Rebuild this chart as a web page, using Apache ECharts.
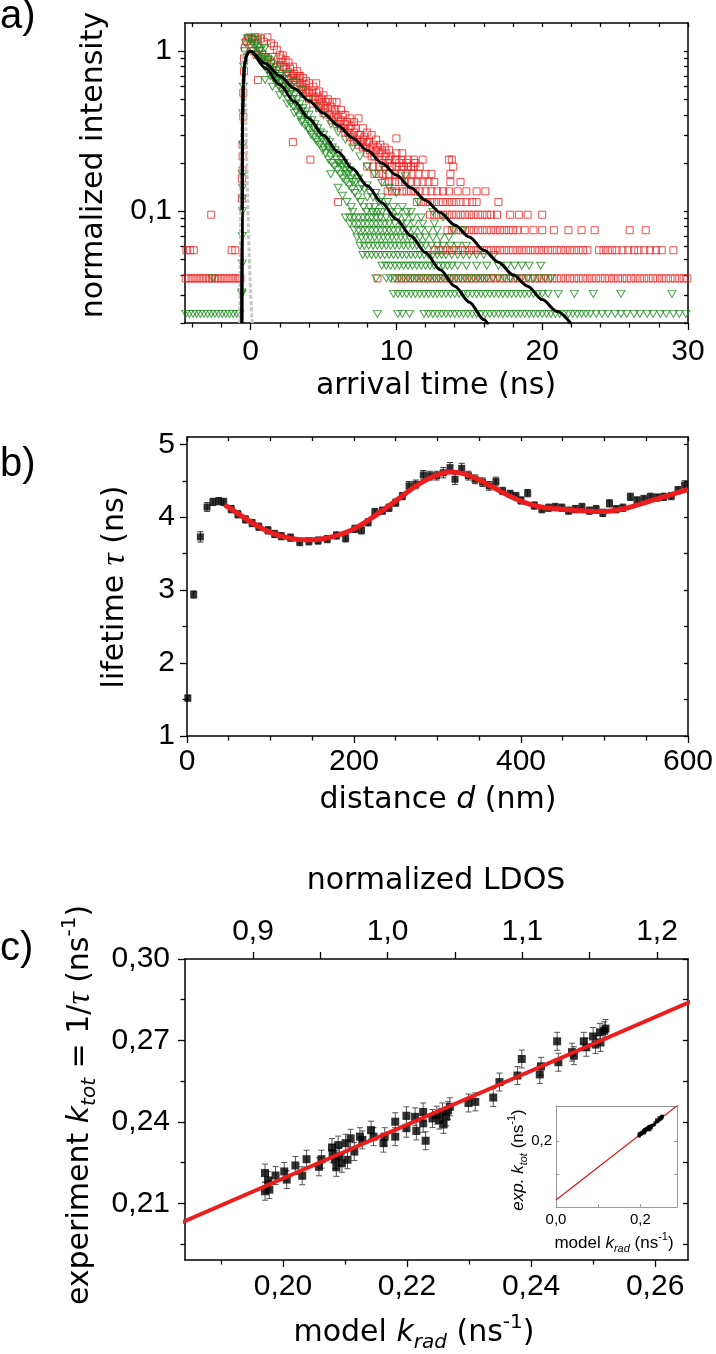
<!DOCTYPE html>
<html><head><meta charset="utf-8">
<script src="https://cdn.jsdelivr.net/npm/echarts@6/dist/echarts.min.js"></script>
<style>html,body{margin:0;padding:0;background:#fff}#c{width:716px;height:1354px}</style>
</head><body><div id="c"></div>
<script>
const FT = 'Liberation Sans';
const FTT = 'DejaVu Sans';

// ================= panel a: decay curves =================
const aXLabels = [0, 10, 20, 30];
const aXMinor = [-4, -2, 2, 4, 6, 8, 12, 14, 16, 18, 22, 24, 26, 28];
const aYLabels = [0.1, 1];
const aYMinor = [0.02, 0.03, 0.04, 0.05, 0.06, 0.07, 0.08, 0.09, 0.2, 0.3, 0.4, 0.5, 0.6, 0.7, 0.8, 0.9];

// red squares: quantised low-count rows (arrival times in ns)
const redT038 = [-4.45,-4.25,-4.05,-3.85,-3.65,-3.45,-3.25,-3.05,-2.85,-2.65,-2.45,-2.25,-2.05,-1.85,-1.65,-1.45,-1.25,-1.05,-0.85,-0.7,
  8.7,9.9,10.2,10.5,10.8,11.1,11.4,11.7,12.0,12.3,12.6,12.9,13.2,13.5,13.8,14.1,14.4,14.7,15.0,15.3,15.6,15.9,16.2,16.5,16.8,17.1,17.4,17.7,18.0,18.3,18.6,18.9,19.2,19.5,19.8,20.1,20.4,20.7,21.0,21.3,21.6,21.9,22.2,22.5,22.8,23.1,23.4,23.7,24.0,24.3,24.6,24.9,25.2,25.5,25.8,26.1,26.4,26.7,27.0,27.3,27.6,27.9,28.2,28.5,28.8,29.1,29.4,29.7,29.95];
const redT057 = [-4.4,-4.15,-3.9,-1.3,-1.05,
  12.6,12.9,13.2,13.5,13.8,14.1,14.4,14.7,15.0,15.3,15.6,15.9,16.2,16.5,16.8,17.1,17.4,17.7,18.0,18.3,18.6,18.9,19.2,19.5,19.8,20.1,20.4,20.7,21.0,21.3,21.6,21.9,22.2,22.5,22.8,23.1,
  23.9,24.2,24.5,24.8,25.1,25.5,25.9,26.3,26.6,27.0,27.4,27.8,28.2,29.0];
const redT076 = [13.5,13.8,14.1,14.4,14.7,15.0,15.3,15.6,15.9,16.2,16.5,16.8,17.1,17.4,17.7,18.0,18.3,18.8,19.4,20.0,20.8,21.8,22.7,23.6,26.0,27.1];
const redT095 = [-2.7,12.3,12.6,12.9,13.2,13.5,13.8,14.1,14.4,14.7,15.0,15.3,15.6,15.9,16.2,16.5,16.9,17.8,18.4,19.0,20.0];
const redT114 = [11.4,11.7,12.0,12.3,12.6,12.9,13.2,13.5,13.8,14.1,14.4,14.8,15.2,15.5,17.0];
const redT133 = [9.4,9.7,10.0,10.4,10.7,11.0,11.3,11.6,12.0,12.4,12.8,13.2,13.6,14.2,14.8,15.5,16.1];
const redT152 = [9.2,9.5,9.9,10.2,10.6,11.0,11.4,11.8,12.2,12.6,13.7,14.4];
const redT171 = [8.5,8.8,9.1,9.5,9.9,10.3,10.7,11.1,11.5,12.0,12.4,13.7];
const redT190 = [8.0,8.4,8.8,9.2,9.6,10.0,10.4,10.8,11.2,13.9];
const redLevels = [0.038, 0.057, 0.076, 0.095, 0.114, 0.133, 0.152, 0.171, 0.19];
// red squares: higher-count part [t, intensity]
const redCloud = [[-0.6,0.12],[-0.6,0.16],[-0.55,0.18],[-0.55,0.22],[-0.55,0.26],[-0.5,0.39],[-0.5,0.55],[-0.45,0.75],[-0.45,0.9],[-0.4,1.05],
  [-0.3,1.15],[-0.2,1.2],[-0.1,1.22],[0.1,1.2],[0.3,1.22],[0.5,1.18],[0.7,1.2],[0.9,1.15],[1.15,1.22],[1.4,1.12],[1.6,1.08],[1.8,1.02],
  [0.0,1.05],[0.2,1.0],[0.4,0.95],[0.5,0.66],[0.6,1.0],[0.8,0.95],[1.0,0.92],[1.2,0.9],[1.4,0.86],[1.6,0.84],[1.8,0.8],
  [2.0,0.95],[2.0,0.8],[2.0,0.72],[2.2,0.94],[2.2,0.85],[2.2,0.6],[2.4,0.88],[2.4,0.78],[2.6,0.85],[2.6,0.74],[2.6,0.66],
  [2.9,0.8],[2.9,0.7],[2.9,0.27],[3.0,0.72],[3.0,0.64],[3.2,0.75],[3.2,0.68],[3.2,0.6],[3.4,0.7],[3.4,0.63],[3.6,0.68],[3.6,0.6],[3.6,0.54],
  [3.8,0.65],[3.8,0.57],[4.0,0.63],[4.0,0.55],[4.0,0.5],[4.1,0.21],[4.3,0.6],[4.3,0.52],[4.3,0.47],[4.5,0.63],[4.5,0.55],[4.7,0.56],[4.7,0.5],[4.7,0.44],
  [5.0,0.53],[5.0,0.46],[5.0,0.41],[5.3,0.5],[5.3,0.44],[5.6,0.48],[5.6,0.42],[5.6,0.37],[5.9,0.48],[5.9,0.4],[5.9,0.35],[6.0,0.114],
  [6.2,0.43],[6.2,0.37],[6.2,0.33],[6.5,0.4],[6.5,0.35],[6.5,0.31],[6.8,0.38],[6.8,0.33],[6.8,0.29],[7.1,0.36],[7.1,0.31],[7.1,0.27],
  [7.4,0.38],[7.4,0.3],[7.4,0.26],[7.7,0.33],[7.7,0.28],[7.7,0.25],[8.0,0.31],[8.0,0.27],[8.0,0.23],[8.3,0.3],[8.3,0.25],[8.3,0.22],
  [8.6,0.28],[8.6,0.24],[8.9,0.26],[8.9,0.23],[9.2,0.25],[9.2,0.22],[9.5,0.24],[9.5,0.21],[10.0,0.285],[10.0,0.23],[10.0,0.21],
  [10.4,0.21],[10.4,0.23],[10.8,0.21],[11.2,0.21],[11.8,0.21],[13.6,0.21],[13.8,0.21],
  [2.1,0.9],[2.3,0.8],[2.5,0.7],[2.7,0.78],[2.8,0.68],[3.1,0.66],[3.3,0.7],[3.5,0.58],[3.7,0.62],[3.9,0.55],[4.2,0.56],[4.4,0.5],[4.6,0.52],
  [4.8,0.47],[4.9,0.5],[5.1,0.44],[5.2,0.48],[5.4,0.4],[5.5,0.45],[5.7,0.39],[5.8,0.43],[6.0,0.38],[6.1,0.35],[6.3,0.4],[6.4,0.33],[6.6,0.36],
  [6.7,0.31],[6.9,0.34],[7.0,0.29],[7.2,0.33],[7.3,0.28],[7.5,0.3],[7.6,0.27],[7.8,0.29],[7.9,0.25],[8.1,0.27],[8.2,0.24],[8.4,0.26],[8.5,0.22],
  [8.7,0.25],[8.8,0.21],[9.0,0.24],[9.1,0.2],[9.3,0.23],[9.4,0.2],[9.6,0.22],[9.7,0.19],[9.9,0.21],[10.2,0.2],[10.5,0.19],[10.7,0.2],[11.0,0.19],[11.3,0.2],[11.6,0.19]];

// green triangles: quantised low-count rows
const greenT023 = [-4.45,-4.2,-3.95,-3.7,-3.45,-3.2,-2.95,-2.7,-2.45,-2.2,-1.95,-1.7,-1.45,-1.2,-0.95,-0.75,
  8.7,10.1,10.4,10.9,11.9,12.2,12.5,12.8,13.1,13.4,13.7,14.0,14.3,14.6,14.9,15.2,15.5,15.8,16.1,16.4,16.7,17.0,17.3,17.6,17.9,18.2,18.5,18.8,19.1,19.4,19.7,20.0,20.3,20.6,20.9,21.2,21.5,21.8,22.1,22.4,22.7,23.0,23.3,
  23.7,24.1,24.5,25.0,25.4,25.8,26.3,26.7,27.2,27.6,28.1,28.5,29.0,29.4,29.85];
const greenT030 = [-0.6,9.8,10.1,10.4,10.7,11.0,11.3,11.6,11.9,12.2,12.5,12.8,13.1,13.4,13.7,14.0,14.3,14.6,14.9,15.2,15.5,15.8,16.1,16.4,16.7,17.0,17.3,17.6,17.9,18.2,18.5,18.8,19.1,19.4,19.7,20.0,20.4,21.1,22.2,23.5,25.4,28.9];
const greenT038 = [-2.6,8.6,9.3,9.6,9.9,10.2,10.5,10.8,11.1,11.4,11.7,12.0,12.3,12.6,12.9,13.2,13.5,13.8,14.1,14.4,14.7,15.0,15.3,15.6,15.9,16.2,16.6,17.0,17.4,17.8,18.2,18.6,19.0,19.4,19.8,20.2,20.6];
const greenT046 = [9.0,9.3,9.6,9.9,10.2,10.5,10.8,11.1,11.4,11.7,12.0,12.3,12.6,12.9,13.2,13.5,13.8,14.2,14.8,15.5,16.2,17.0,17.6,18.1,18.6,19.1,19.9];
const greenT053 = [7.7,8.0,8.3,8.6,8.9,9.2,9.5,9.8,10.1,10.4,10.7,11.0,11.3,11.6,11.9,12.2,12.5,12.8,13.1,13.4,13.8,14.2,14.6,15.0,15.5,16.0,16.7];
const greenT061 = [7.5,7.8,8.1,8.4,8.7,9.0,9.3,9.6,9.9,10.2,10.5,10.8,11.1,11.4,11.7,12.0,12.4,12.8,13.2,13.7,14.2,14.8];
const greenT068 = [7.3,7.6,7.9,8.2,8.5,8.8,9.1,9.4,9.7,10.0,10.3,10.6,10.9,11.2,11.6,12.0,12.5,13.0,13.6];
const greenT076 = [7.1,7.4,7.7,8.0,8.3,8.6,8.9,9.2,9.5,9.8,10.1,10.4,10.8,11.2,11.7,12.2,12.8,13.9,14.6];
const greenT084 = [6.8,7.1,7.4,7.7,8.0,8.3,8.6,8.9,9.2,9.5,9.9,10.3,10.7,11.2,11.8,12.6];
const greenT091 = [6.5,6.8,7.1,7.4,7.7,8.0,8.3,8.6,8.9,9.3,9.7,10.1,10.6,11.1,11.7,13.2];
const greenLevels = [0.0228, 0.0304, 0.038, 0.0456, 0.0532, 0.0608, 0.0684, 0.076, 0.0836, 0.0912];
// green triangles: higher-count part [t, intensity]
const greenCloud = [[-0.6,0.031],[-0.58,0.047],[-0.57,0.07],[-0.56,0.1],[-0.56,0.12],[-0.55,0.14],[-0.55,0.17],[-0.54,0.26],[-0.53,0.41],[-0.5,0.6],[-0.47,0.8],[-0.42,1.0],[-0.35,1.12],
  [-0.2,1.2],[0.0,1.2],[0.1,1.12],[0.2,1.18],[0.3,1.08],[0.4,1.12],[0.5,1.05],[0.6,1.0],[0.7,1.02],[0.8,0.95],[0.9,0.9],[1.0,0.92],[1.1,0.85],[1.2,0.88],[1.3,0.8],[1.4,0.83],
  [1.5,0.76],[1.6,0.79],[1.7,0.72],[1.8,0.75],[1.9,0.68],[2.0,0.7],[2.1,0.64],[2.2,0.67],[2.3,0.6],[2.4,0.63],[2.5,0.57],[2.6,0.6],[2.7,0.54],[2.8,0.56],[2.9,0.5],[3.0,0.53],
  [3.1,0.47],[3.2,0.5],[3.3,0.44],[3.4,0.47],[3.5,0.42],[3.6,0.44],[3.7,0.4],[3.8,0.42],[3.9,0.37],[4.0,0.4],[4.1,0.35],[4.2,0.37],[4.3,0.33],[4.4,0.35],[4.5,0.31],[4.6,0.33],
  [4.7,0.3],[4.8,0.31],[4.9,0.28],[5.0,0.3],[5.1,0.27],[5.2,0.28],[5.3,0.25],[5.4,0.27],[5.5,0.24],[5.6,0.25],[5.7,0.23],[5.8,0.24],[5.9,0.21],[6.0,0.23],[6.1,0.2],[6.2,0.21],
  [6.3,0.19],[6.4,0.2],[6.5,0.18],[6.6,0.19],[6.7,0.17],[6.8,0.18],[6.9,0.16],[7.0,0.17],[7.2,0.152],[7.4,0.16],[7.6,0.145],[7.8,0.137],[8.0,0.145],[8.2,0.13],[8.4,0.122],
  [8.6,0.13],[8.8,0.114],[9.0,0.122],[9.2,0.106],[9.4,0.114],[9.6,0.099],[9.8,0.106],[10.1,0.099],[10.4,0.106],[10.7,0.099],[11.0,0.099],
  [0.5,1.22],[1.0,1.05],[1.5,0.92],[2.0,0.82],[2.5,0.72],[3.0,0.64],[3.5,0.57],[4.0,0.5],[4.5,0.45],[5.0,0.4],[5.5,0.35],[6.0,0.31],[6.5,0.28],[7.0,0.25],[7.5,0.22],
  [8.0,0.19],[8.5,0.17],[9.2,0.18],[9.0,0.15],[9.5,0.14],[10.0,0.13],[10.6,0.165],[11.5,0.114],[12.5,0.099],
  [1.0,0.66],[1.5,0.6],[2.0,0.53],[2.5,0.47],[3.0,0.41],[3.5,0.36],[4.0,0.32],[4.5,0.28],[5.0,0.25],[5.5,0.22],[5.5,0.17],[6.0,0.2],[6.0,0.14],[6.3,0.125],[6.6,0.114],
  [6.9,0.106],[7.0,0.099],[6.5,0.17],[7.0,0.152],[7.5,0.137],[8.0,0.122],[8.5,0.106],
  [0.15,1.0],[0.35,0.95],[0.55,0.9],[0.75,0.85],[0.95,0.8],[1.15,0.76],[1.35,0.7],[1.55,0.68],[1.75,0.63],[1.95,0.6],[2.15,0.56],[2.35,0.54],[2.55,0.5],
  [2.75,0.47],[2.95,0.45],[3.15,0.42],[3.35,0.39],[3.55,0.37],[3.75,0.34],[3.95,0.33],[4.15,0.3],[4.35,0.29],[4.55,0.27],[4.75,0.26],[4.95,0.24],[5.15,0.23],
  [5.35,0.21],[5.55,0.2],[5.75,0.19],[5.95,0.18],[6.15,0.17],[6.35,0.16],[6.55,0.152],[6.75,0.145],[6.95,0.137],[7.15,0.13],[7.35,0.122],[7.55,0.114],[7.75,0.106],
  [7.95,0.099],[8.15,0.106],[8.35,0.099],[8.55,0.099],[8.75,0.099],[9.0,0.099]];

// fitted decays (black) and instrument response (grey)
const aFitLongT = [-0.6,-0.58,-0.55,-0.5,-0.42,-0.3,-0.15,0,1,2,3,4,5,6,7,8,9,10,11,12,13,14,15,16,17,18,19,20,21,22];
const aFitLongV = [0.02,0.1,0.39,0.62,0.82,0.93,0.985,1,0.836,0.70,0.585,0.49,0.41,0.343,0.287,0.24,0.2,0.168,0.14,0.117,0.098,0.082,0.069,0.057,0.048,0.04,0.034,0.028,0.0237,0.0197];
const aFitShortT = [-0.6,-0.58,-0.55,-0.5,-0.42,-0.3,-0.15,0,1,2,3,4,5,6,7,8,9,10,11,12,13,14,15,16,16.3];
const aFitShortV = [0.02,0.1,0.39,0.62,0.82,0.93,0.985,1,0.785,0.616,0.484,0.38,0.298,0.234,0.184,0.144,0.113,0.089,0.07,0.055,0.043,0.034,0.027,0.021,0.0195];
const aIrfT = [-0.75,-0.65,-0.55,-0.47,-0.4,-0.32,-0.2,-0.1,0,0.1,0.15];
const aIrfV = [0.02,0.2,0.7,1.0,0.7,0.34,0.12,0.055,0.032,0.021,0.018];

// ================= panel b: lifetime vs distance =================
const bXLabels = [0, 200, 400, 600];
const bXMinor = [50, 100, 150, 250, 300, 350, 450, 500, 550];
const bYLabels = [1, 2, 3, 4, 5];
const bYMinor = [1.5, 2.5, 3.5, 4.5];
const bDist = [1,8,16,24,31,38,44,53,61,70,78,86,97,105,113,124,135,146,157,168,179,190,201,209,217,225,234,242,250,258,266,274,283,291,299,307,315,321,329,337,345,354,362,370,378,387,394,400,408,416,425,433,441,449,457,465,473,482,490,498,506,514,522,531,539,547,555,563,571,580,588,596];
const bTau = [1.52,2.94,3.73,4.14,4.21,4.22,4.21,4.11,4.04,3.97,3.92,3.87,3.82,3.77,3.74,3.72,3.66,3.67,3.68,3.70,3.75,3.71,3.84,3.82,3.93,4.07,4.09,4.13,4.20,4.29,4.43,4.45,4.58,4.57,4.57,4.61,4.68,4.52,4.67,4.57,4.52,4.48,4.43,4.49,4.36,4.32,4.29,4.23,4.33,4.16,4.11,4.13,4.14,4.13,4.09,4.11,4.14,4.09,4.11,4.06,4.19,4.11,4.13,4.28,4.23,4.25,4.28,4.27,4.28,4.29,4.37,4.44];
const bErr = [0.04,0.05,0.07,0.06,0.05,0.05,0.05,0.05,0.05,0.05,0.05,0.05,0.05,0.05,0.05,0.05,0.05,0.05,0.05,0.05,0.05,0.05,0.05,0.05,0.05,0.05,0.05,0.05,0.05,0.05,0.06,0.06,0.06,0.06,0.06,0.07,0.07,0.07,0.07,0.06,0.06,0.06,0.06,0.06,0.05,0.05,0.05,0.05,0.05,0.05,0.05,0.05,0.05,0.05,0.05,0.05,0.05,0.05,0.05,0.05,0.05,0.05,0.05,0.05,0.05,0.05,0.05,0.05,0.05,0.05,0.05,0.06];
const bFitD = [45,60,80,100,120,140,150,160,180,200,220,240,260,280,300,315,330,350,370,390,410,430,450,470,490,500,520,540,560,580,600];
const bFitTau = [4.17,4.06,3.91,3.79,3.72,3.69,3.69,3.70,3.75,3.84,3.98,4.14,4.31,4.47,4.58,4.62,4.60,4.51,4.39,4.27,4.18,4.13,4.11,4.09,4.08,4.08,4.11,4.17,4.24,4.31,4.38];

// ================= panel c: k_tot vs k_rad =================
const cXLabels = [0.20, 0.22, 0.24, 0.26];
const cXMinor = [0.19, 0.21, 0.23, 0.25];
const cYLabels = [0.21, 0.24, 0.27, 0.30];
const cYMinor = [0.195, 0.225, 0.255, 0.285];
const cTopLabels = [0.9, 1.0, 1.1, 1.2];
const cTopTicks = [0.9, 0.95, 1.0, 1.05, 1.1, 1.15, 1.2];
const cKrad = [0.1971,0.1971,0.1976,0.1978,0.1988,0.2002,0.2006,0.2020,0.2031,0.2038,0.2058,0.2062,0.2079,0.2080,0.2084,0.2086,0.2089,0.2091,0.2095,0.2101,0.2104,0.2109,0.2115,0.2124,0.2128,0.2142,0.2146,0.2162,0.2164,0.2181,0.2181,0.2199,0.2199,0.2213,0.2215,0.2226,0.2226,0.2230,0.2241,0.2248,0.2252,0.2257,0.2259,0.2263,0.2266,0.2269,0.2299,0.2310,0.2339,0.2349,0.2378,0.2385,0.2414,0.2416,0.2442,0.2444,0.2466,0.2469,0.2485,0.2489,0.2500,0.2504,0.2511,0.2512,0.2518,0.2520];
const cKtot = [0.2212,0.2145,0.2185,0.2151,0.2203,0.2218,0.2188,0.2240,0.2202,0.2263,0.2235,0.2263,0.2306,0.2285,0.2261,0.2233,0.2315,0.2273,0.2248,0.2322,0.2261,0.2340,0.2291,0.2346,0.2334,0.2370,0.2346,0.2322,0.2346,0.2401,0.2346,0.2423,0.2377,0.2419,0.2367,0.2437,0.2395,0.2331,0.2413,0.2425,0.2407,0.2437,0.2391,0.2419,0.2443,0.2456,0.2470,0.2474,0.2490,0.2547,0.2571,0.2632,0.2575,0.2605,0.2697,0.2620,0.2657,0.2644,0.2697,0.2675,0.2715,0.2685,0.2730,0.2693,0.2736,0.2744];
const cErr = 0.0033;
const cFitK = [0, 0.30];
const cFitT = [0.021, 0.3183];
const insetXLabels = [0.0, 0.2];
const insetYLabels = [0.2];
const insetTicks = [0.1, 0.2];

// ================= build =================
const zip = (a, b) => a.map((v, i) => [v, b[i]]);
const redPts = [];
[redT038, redT057, redT076, redT095, redT114, redT133, redT152, redT171, redT190]
  .forEach((arr, i) => arr.forEach(t => redPts.push([t, redLevels[i]])));
redCloud.forEach(p => redPts.push(p));
const greenPts = [];
[greenT023, greenT030, greenT038, greenT046, greenT053, greenT061, greenT068, greenT076, greenT084, greenT091]
  .forEach((arr, i) => arr.forEach(t => greenPts.push([t, greenLevels[i]])));
greenCloud.forEach(p => greenPts.push(p));

const comma = d => v => v.toFixed(d).replace('.', ',');

function ax(o) {
  const lc = o.lc || '#000';
  const a = {
    type: o.type || 'value', gridIndex: o.g, position: o.pos, min: o.min, max: o.max,
    axisLine: { show: o.line !== false, onZero: false, lineStyle: { color: lc, width: o.lw || 1.5 } },
    axisTick: { show: !!o.ticks, inside: !!o.inside, length: o.tl || 7, customValues: o.ticks,
      lineStyle: { color: lc, width: o.tw || 1.3 } },
    axisLabel: o.labels ? { show: true, customValues: o.labels, formatter: o.fmt, margin: o.margin,
      fontFamily: FT, fontSize: o.fs || 30, color: '#000' } : { show: false },
    splitLine: { show: false }, silent: true
  };
  if (o.z) a.z = o.z;
  if (a.type === 'log') a.logBase = 10;
  return a;
}

function errRender(cap, color, lw) {
  return function (params, api) {
    const x = api.value(0), lo = api.value(1), hi = api.value(2);
    const p = api.coord([x, lo]), q = api.coord([x, hi]);
    const st = { stroke: color, lineWidth: lw };
    return { type: 'group', children: [
      { type: 'line', shape: { x1: p[0], y1: p[1], x2: q[0], y2: q[1] }, style: st },
      { type: 'line', shape: { x1: p[0] - cap, y1: p[1], x2: p[0] + cap, y2: p[1] }, style: st },
      { type: 'line', shape: { x1: q[0] - cap, y1: q[1], x2: q[0] + cap, y2: q[1] }, style: st }
    ] };
  };
}

const aAll = aXLabels.concat(aXMinor);
const aYAll = aYLabels.concat(aYMinor);
const bXAll = bXLabels.concat(bXMinor);
const bYAll = bYLabels.concat(bYMinor);
const cYAll = cYLabels.concat(cYMinor);

const xAxis = [
  ax({ g: 0, pos: 'bottom', min: -4.5, max: 30, labels: aXLabels, ticks: aXLabels, fmt: v => String(v), margin: 14 }),
  ax({ g: 0, pos: 'bottom', min: -4.5, max: 30, ticks: aXMinor, tl: 4.5, line: false }),
  ax({ g: 0, pos: 'top', min: -4.5, max: 30, ticks: aAll, inside: true, tl: 4 }),
  ax({ g: 1, pos: 'bottom', min: 0, max: 600, labels: bXLabels, ticks: bXLabels, fmt: v => String(v), margin: 11 }),
  ax({ g: 1, pos: 'bottom', min: 0, max: 600, ticks: bXMinor, tl: 4.5, line: false }),
  ax({ g: 1, pos: 'top', min: 0, max: 600, ticks: bXAll, inside: true, tl: 4 }),
  ax({ g: 2, pos: 'bottom', min: 0.1842, max: 0.2653, labels: cXLabels, ticks: cXLabels, fmt: comma(2), margin: 12 }),
  ax({ g: 2, pos: 'bottom', min: 0.1842, max: 0.2653, ticks: cXMinor, tl: 4.5, line: false }),
  ax({ g: 2, pos: 'top', min: 0.8495, max: 1.223, labels: cTopLabels, ticks: cTopTicks, fmt: comma(1), margin: 12 }),
  ax({ g: 3, pos: 'bottom', min: 0, max: 0.287, labels: insetXLabels, ticks: insetTicks, inside: true, tl: 3, fmt: comma(1), margin: 5, fs: 15, lc: '#999', lw: 1, tw: 1, z: 12 }),
  ax({ g: 3, pos: 'top', min: 0, max: 0.287, lc: '#999', lw: 1, z: 12 })
];
const yAxis = [
  ax({ type: 'log', g: 0, pos: 'left', min: 0.02, max: 1.5, labels: aYLabels, ticks: aYLabels, fmt: v => (v > 0.5 ? '1' : '0,1'), margin: 13 }),
  ax({ type: 'log', g: 0, pos: 'left', min: 0.02, max: 1.5, ticks: aYMinor, tl: 4.5, line: false }),
  ax({ type: 'log', g: 0, pos: 'right', min: 0.02, max: 1.5, ticks: aYAll, inside: true, tl: 4 }),
  ax({ g: 1, pos: 'left', min: 1, max: 5.1, labels: bYLabels, ticks: bYLabels, fmt: v => String(v), margin: 12 }),
  ax({ g: 1, pos: 'left', min: 1, max: 5.1, ticks: bYMinor, tl: 4.5, line: false }),
  ax({ g: 1, pos: 'right', min: 1, max: 5.1, ticks: bYAll, inside: true, tl: 4 }),
  ax({ g: 2, pos: 'left', min: 0.1892, max: 0.30, labels: cYLabels, ticks: cYLabels, fmt: comma(2), margin: 15 }),
  ax({ g: 2, pos: 'left', min: 0.1892, max: 0.30, ticks: cYMinor, tl: 4.5, line: false }),
  ax({ g: 2, pos: 'right', min: 0.1892, max: 0.30, ticks: cYAll, inside: true, tl: 5 }),
  ax({ g: 3, pos: 'left', min: 0, max: 0.305, labels: insetYLabels, ticks: insetTicks, inside: true, tl: 3, fmt: comma(1), margin: 4, fs: 15, lc: '#999', lw: 1, tw: 1, z: 12 }),
  ax({ g: 3, pos: 'right', min: 0, max: 0.305, ticks: insetTicks, inside: true, tl: 3, lc: '#999', lw: 1, tw: 1, z: 12 })
];

const hollow = c => ({ color: 'rgba(255,255,255,0)', borderColor: c, borderWidth: 1 });
const series = [
  { type: 'scatter', xAxisIndex: 0, yAxisIndex: 0, data: redPts, symbol: 'rect', symbolSize: 7, itemStyle: hollow('#f02020'), z: 2 },
  { type: 'scatter', xAxisIndex: 0, yAxisIndex: 0, data: greenPts, symbol: 'triangle', symbolRotate: 180, symbolSize: [8, 7], itemStyle: hollow('#1d8a1d'), z: 3 },
  { type: 'line', xAxisIndex: 0, yAxisIndex: 0, data: zip(aIrfT, aIrfV), showSymbol: false, smooth: 0.3, lineStyle: { color: '#c6c6c6', width: 3, type: [4, 2] }, z: 4 },
  { type: 'line', xAxisIndex: 0, yAxisIndex: 0, data: zip(aFitLongT, aFitLongV), showSymbol: false, smooth: 0.3, smoothMonotone: 'x', lineStyle: { color: '#000', width: 3 }, z: 5 },
  { type: 'line', xAxisIndex: 0, yAxisIndex: 0, data: zip(aFitShortT, aFitShortV), showSymbol: false, smooth: 0.3, smoothMonotone: 'x', lineStyle: { color: '#000', width: 3 }, z: 5 },

  { type: 'custom', xAxisIndex: 3, yAxisIndex: 3, renderItem: errRender(3, '#333', 1), data: bDist.map((d, i) => [d, bTau[i] - bErr[i], bTau[i] + bErr[i]]), z: 3 },
  { type: 'scatter', xAxisIndex: 3, yAxisIndex: 3, data: zip(bDist, bTau), symbol: 'rect', symbolSize: 7, itemStyle: { color: '#000' }, z: 4 },
  { type: 'line', xAxisIndex: 3, yAxisIndex: 3, data: zip(bFitD, bFitTau), showSymbol: false, smooth: 0.4, lineStyle: { color: '#ee1c1c', width: 5 }, z: 5 },

  { type: 'custom', xAxisIndex: 6, yAxisIndex: 6, renderItem: errRender(3, '#555', 1), data: cKrad.map((k, i) => [k, cKtot[i] - cErr, cKtot[i] + cErr]), z: 3 },
  { type: 'scatter', xAxisIndex: 6, yAxisIndex: 6, data: zip(cKrad, cKtot), symbol: 'rect', symbolSize: 8, itemStyle: { color: '#000' }, z: 4 },
  { type: 'line', xAxisIndex: 6, yAxisIndex: 6, data: zip(cFitK, cFitT), showSymbol: false, lineStyle: { color: '#ee1c1c', width: 4 }, z: 5 },

  { type: 'line', xAxisIndex: 9, yAxisIndex: 9, data: zip(cFitK, cFitT), showSymbol: false, lineStyle: { color: '#e01010', width: 1.2 }, z: 12 },
  { type: 'scatter', xAxisIndex: 9, yAxisIndex: 9, data: zip(cKrad, cKtot), symbol: 'rect', symbolSize: 3, itemStyle: { color: '#000' }, z: 13 }
];

const rich = (fs, sfs) => ({
  a: { fontFamily: FTT, fontSize: fs, lineHeight: fs + 10 },
  i: { fontFamily: FTT, fontStyle: 'italic', fontSize: fs, lineHeight: fs + 10 },
  s: { fontFamily: FTT, fontStyle: 'italic', fontSize: sfs, lineHeight: sfs, verticalAlign: 'bottom' },
  p: { fontFamily: FTT, fontSize: sfs, lineHeight: sfs, verticalAlign: 'top' },
  g: { fontFamily: 'Liberation Serif', fontStyle: 'italic', fontSize: fs + 4, lineHeight: fs + 10 }
});
const richI = (fs, sfs) => ({
  a: { fontFamily: FT, fontSize: fs, lineHeight: fs + 6 },
  i: { fontFamily: FT, fontStyle: 'italic', fontSize: fs, lineHeight: fs + 6 },
  s: { fontFamily: FT, fontStyle: 'italic', fontSize: sfs, lineHeight: sfs, verticalAlign: 'bottom' },
  p: { fontFamily: FT, fontSize: sfs, lineHeight: sfs, verticalAlign: 'top' }
});
function txt(x, y, text, opt) {
  opt = opt || {};
  return { type: 'text', x: x, y: y, rotation: opt.rot || 0, silent: true, z: 100,
    style: { text: text, rich: opt.rich, fontFamily: opt.ff || FTT, fontSize: opt.fs || 30, fill: '#000',
      align: opt.align || 'center', verticalAlign: 'middle', textAlign: opt.align || 'center', textVerticalAlign: 'middle' } };
}
const R = Math.PI / 2;
const graphic = [
  txt(0, 17, 'a)', { ff: FT, fs: 40, align: 'left' }),
  txt(0, 465, 'b)', { ff: FT, fs: 40, align: 'left' }),
  txt(0, 949, 'c)', { ff: FT, fs: 40, align: 'left' }),
  txt(94, 165, 'normalized intensity', { rot: R }),
  txt(436, 386, 'arrival time (ns)'),
  txt(115, 587, '{a|lifetime }{g|τ}{a| (ns)}', { rot: R, rich: rich(30, 20) }),
  txt(438, 800, '{a|distance }{i|d}{a| (nm)}', { rich: rich(30, 20) }),
  txt(436, 881, 'normalized LDOS'),
  txt(80, 1105, '{a|experiment }{i|k}{s|tot}{a| = 1/}{g|τ}{a| (ns}{p|-1}{a|)}', { rot: R, rich: rich(30, 20) }),
  txt(414, 1333, '{a|model }{i|k}{s|rad}{a| (ns}{p|-1}{a|)}', { rich: rich(30, 20) }),
  txt(518, 1160, '{i|exp. k}{s|tot}{a| (ns}{p|-1}{a|)}', { rot: R, rich: richI(17, 11) }),
  txt(614, 1243, '{a|model }{i|k}{s|rad}{a| (ns}{p|-1}{a|)}', { rich: richI(17, 11) })
];

const chart = echarts.init(document.getElementById('c'), null, { renderer: 'canvas' });
chart.setOption({
  animation: false,
  backgroundColor: '#fff',
  textStyle: { fontFamily: FT },
  grid: [
    { left: 185, top: 23, width: 503, height: 300 },
    { left: 187, top: 437, width: 502, height: 299 },
    { left: 185, top: 959, width: 503, height: 301 },
    { left: 556, top: 1106, width: 121, height: 101, show: true, backgroundColor: '#fff', borderWidth: 0, z: 10 }
  ],
  xAxis: xAxis,
  yAxis: yAxis,
  series: series,
  graphic: graphic
});
</script></body></html>
